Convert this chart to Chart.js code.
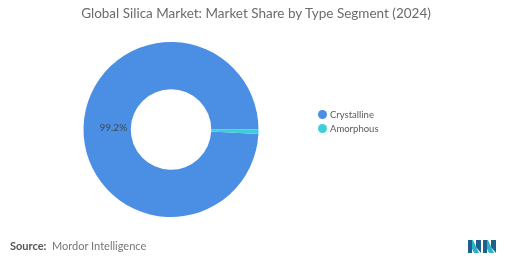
<!DOCTYPE html>
<html><head><meta charset="utf-8">
<script src="https://cdn.jsdelivr.net/npm/chart.js@4"></script>
<style>
html,body{margin:0;padding:0;background:#fff;}
#wrap{position:relative;width:507px;height:265px;overflow:hidden;font-family:"Lato","Open Sans",sans-serif;}
canvas{position:absolute;left:0;top:0;}
#title{position:absolute;left:0;width:512px;top:5px;text-align:center;font-size:13.5px;color:#6b6b6b;}
#legend{position:absolute;left:318px;top:107px;font-size:9.5px;color:#5a5a5a;}
.li{display:flex;align-items:center;height:14px;}
.dot{width:9px;height:9px;border-radius:50%;margin-right:3px;}
#source{position:absolute;left:10px;top:239px;font-size:11px;color:#777;}
#source b{color:#555;font-weight:700;}
#logo{position:absolute;left:468px;top:238px;}
</style></head>
<body><div id="wrap">
<canvas id="c" width="507" height="265"></canvas>
<div id="title"></div>
<div id="legend"></div>
<div id="source"><b>Source:</b>&nbsp; Mordor Intelligence</div>
<svg id="logo" width="30" height="17" viewBox="0 0 30 17">
<polygon points="0,2 5,2 11,15 6,15" fill="#2bb3c9"/>
<polygon points="0,2 4,2 4,15 0,15" fill="#1f5f8b"/>
<polygon points="8,2 13,2 13,15 8,9" fill="#1f5f8b"/>
<polygon points="15,2 20,2 26,15 21,15" fill="#2bb3c9"/>
<polygon points="15,2 19,2 19,15 15,15" fill="#1f5f8b"/>
<polygon points="23,2 28,2 28,15 23,9" fill="#1f5f8b"/>
</svg>
</div>
<script>
const titleText = "Global Silica Market: Market Share by Type Segment (2024)";
const categories = ["Crystalline", "Amorphous"];
const shares = [99.2, 0.8];
const sliceColors = ["#4a8fe3", "#3dcfd9"];
const shownLabels = ["99.2%", ""];

document.getElementById('title').textContent = titleText;
const lg = document.getElementById('legend');
categories.forEach((c,i)=>{
  const d=document.createElement('div');d.className='li';
  d.innerHTML='<span class="dot" style="background:'+sliceColors[i]+'"></span><span></span>';
  d.lastChild.textContent=c; lg.appendChild(d);
});

const labelPlugin = {
  id:'sliceLabels',
  afterDatasetsDraw(chart){
    const ctx=chart.ctx;
    const meta=chart.getDatasetMeta(0);
    meta.data.forEach((arc,i)=>{
      if(!shownLabels[i]) return;
      const p=arc.getProps(['x','y','startAngle','endAngle','innerRadius','outerRadius'],true);
      const a=(p.startAngle+p.endAngle)/2;
      const r=p.innerRadius+(p.outerRadius-p.innerRadius)*0.37;
      ctx.save();
      ctx.font='10px Lato, "Open Sans", sans-serif';
      ctx.fillStyle='#3d4a5c';
      ctx.textAlign='center';ctx.textBaseline='middle';
      ctx.fillText(shownLabels[i], p.x+Math.cos(a)*r, p.y+Math.sin(a)*r);
      ctx.restore();
    });
  }
};

new Chart(document.getElementById('c'),{
  type:'doughnut',
  data:{labels:categories,datasets:[{data:shares,backgroundColor:sliceColors,borderWidth:0}]},
  options:{
    responsive:false,animation:false,
    rotation:92.88,
    cutout:'46%',
    layout:{padding:{left:83.5,right:248.5,top:42,bottom:48}},
    plugins:{legend:{display:false},tooltip:{enabled:false},title:{display:false}}
  },
  plugins:[labelPlugin]
});
</script>
</body></html>
